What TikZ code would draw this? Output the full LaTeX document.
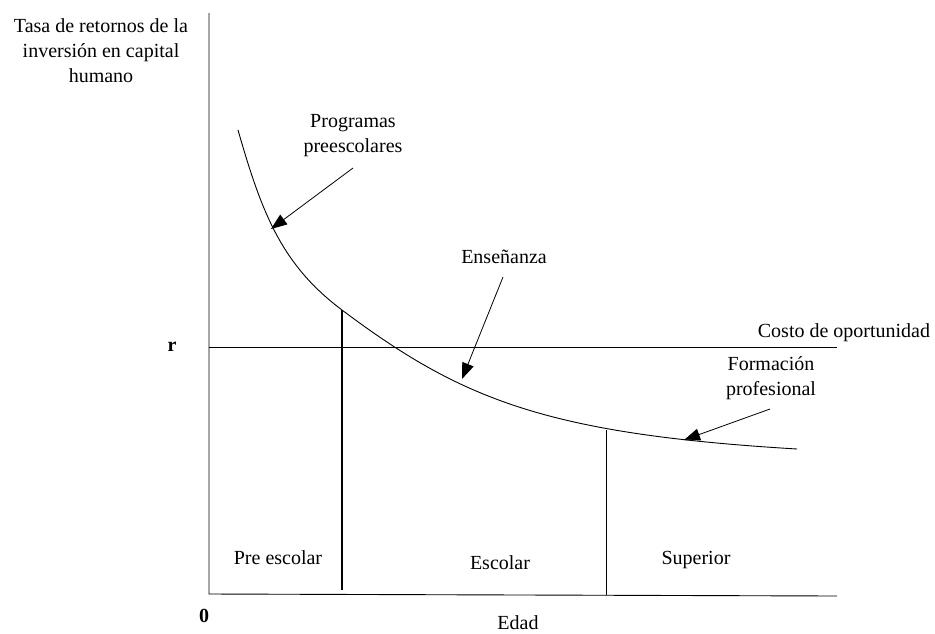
\documentclass[tikz,border=0pt]{standalone}
\usepackage{fontspec}
\setmainfont{Liberation Serif}
\usetikzlibrary{arrows.meta}
\tikzset{
  lbl/.style={font=\fontsize{20}{25}\selectfont, align=center, inner sep=0pt},
  pointer/.style={-{Triangle[length=16pt,width=12pt]}, line width=0.8pt},
}

\begin{document}
\begin{tikzpicture}[x=1pt,y=-1pt]
    \useasboundingbox (0,0) rectangle (935,633);

    % ejes
    \coordinate (ytop) at (209,13);
    \coordinate (orig) at (209,594);
    \coordinate (xend) at (837,596);
    \draw[line width=0.9pt] (ytop) -- (orig) -- (xend);
    \node[lbl] (ylab) at (101,51) {Tasa de retornos de la\\inversión en capital\\humano};
    \node[lbl] (xlab) at (518,623) {Edad};
    \node[lbl,font=\fontsize{20}{25}\selectfont\bfseries] (cero) at (204,616) {0};

    % costo de oportunidad
    \coordinate (rl) at (209,347);
    \coordinate (rr) at (837,347);
    \draw[line width=0.9pt] (rl) -- (rr);
    \node[lbl,font=\fontsize{20}{25}\selectfont\bfseries] (r) at (172,347) {r};
    \node[lbl] (costo) at (844,333) {Costo de oportunidad};

    % curva de retornos
    \coordinate (k0) at (238,130);
    \coordinate (c1) at (342,310);
    \coordinate (k1) at (797,449);
    \draw[line width=0.9pt] (k0) .. controls (262,214) and (282,265) .. (c1)
        .. controls (462,400) and (547,434) .. (k1);

    % etapas
    \coordinate (b1) at (342,590);
    \draw[line width=1.8pt] (c1) -- (b1);
    \coordinate (c2) at (606,430);
    \coordinate (b2) at (606,595);
    \draw[line width=0.9pt] (c2) -- (b2);
    \node[lbl] (pre) at (278,558) {Pre escolar};
    \node[lbl] (esc) at (500,563) {Escolar};
    \node[lbl] (sup) at (696,560) {Superior};

    % flechas
    \node[lbl] (prog) at (353,136) {Programas\\preescolares};
    \coordinate (prog s) at (353,168);
    \coordinate (prog e) at (271,229);
    \draw[pointer] (prog s) -- (prog e);

    \node[lbl] (ense) at (504,257) {Enseñanza};
    \coordinate (ense s) at (503,277);
    \coordinate (ense e) at (462,379);
    \draw[pointer] (ense s) -- (ense e);

    \node[lbl] (form) at (771,378) {Formación\\profesional};
    \coordinate (form s) at (770,409);
    \coordinate (form e) at (684,440);
    \draw[pointer] (form s) -- (form e);
\end{tikzpicture}
\end{document}
